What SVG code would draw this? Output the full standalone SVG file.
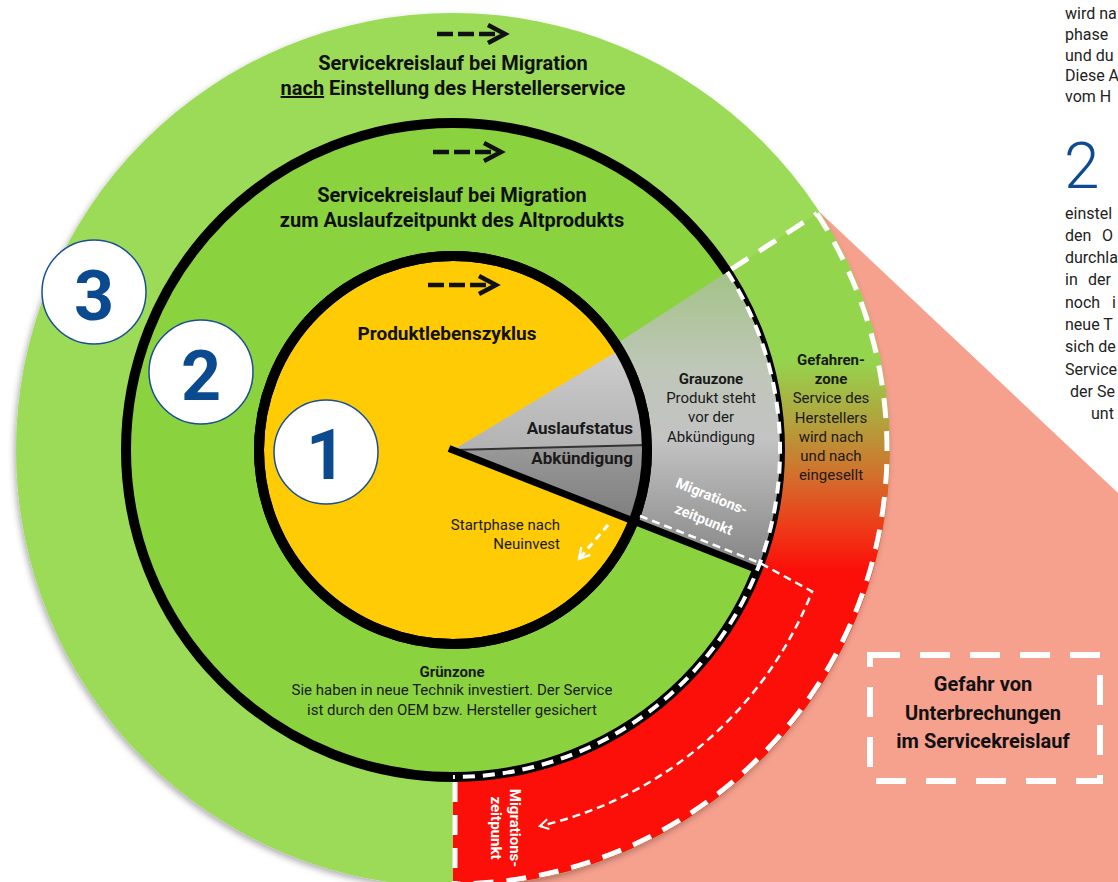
<svg xmlns="http://www.w3.org/2000/svg" width="1118" height="882" viewBox="0 0 1118 882">
<style>
text{font-family:Roboto,"Liberation Sans",Arial,sans-serif;fill:#1a1a1a}
.b{font-weight:700}
.t20{font-size:20px;font-weight:700;text-anchor:middle;fill:#111}
.t15{font-size:15px;text-anchor:middle}
.wd{fill:none;stroke:#fff;stroke-width:5;stroke-dasharray:20 13}
.side{font-size:16px;fill:#222}
.badge circle{fill:#fff;stroke:#1a4f96;stroke-width:1.5}
.badge text{font-size:70px;font-weight:700;fill:#0b4a8f;text-anchor:middle}
</style>
<defs>
<filter id="sh" x="-10%" y="-10%" width="120%" height="120%">
<feDropShadow dx="-2" dy="3" stdDeviation="3" flood-color="#000" flood-opacity="0.3"/>
</filter>
<linearGradient id="gz" gradientUnits="userSpaceOnUse" x1="0" y1="360" x2="0" y2="570">
<stop offset="0" stop-color="#94d54e"/>
<stop offset="0.3" stop-color="#b3a13c"/>
<stop offset="0.55" stop-color="#d2702c"/>
<stop offset="0.8" stop-color="#ee3a18"/>
<stop offset="1" stop-color="#fb0f08"/>
</linearGradient>
<linearGradient id="gray" gradientUnits="userSpaceOnUse" x1="0" y1="280" x2="0" y2="570">
<stop offset="0" stop-color="#a5c38b"/>
<stop offset="0.3" stop-color="#bfc7b8"/>
<stop offset="0.55" stop-color="#c3c3c3"/>
<stop offset="1" stop-color="#838383"/>
</linearGradient>
<linearGradient id="ls" x1="0" y1="0" x2="0" y2="1">
<stop offset="0" stop-color="#cdcdcd"/>
<stop offset="1" stop-color="#b2b2b2"/>
</linearGradient>
<linearGradient id="ab" x1="0" y1="0" x2="0" y2="1">
<stop offset="0" stop-color="#9a9a9a"/>
<stop offset="1" stop-color="#7e7e7e"/>
</linearGradient>
<g id="arr" fill="none" stroke="#111" stroke-width="4.5">
<path d="M0,0 H58" stroke-dasharray="16 5"/>
<path d="M51,-9 L68,0 L51,9" stroke-linejoin="miter"/>
</g>
<marker id="wh" viewBox="0 0 10 10" refX="8" refY="5" markerWidth="5" markerHeight="5" orient="auto" markerUnits="strokeWidth">
<path d="M1,1 L8,5 L1,9" fill="none" stroke="#fff" stroke-width="1.6"/>
</marker>
</defs>

<g id="danger-area">
<polygon points="819.5,212 1118,493 1118,882 453,882 453,450" fill="#f6a08e"/>
</g>

<g id="ring3">
<circle cx="453" cy="450" r="437" fill="#9cdb59" filter="url(#sh)"/>
<path d="M727.3,271.9 L819.5,212 A437 437 0 0 1 453,887 L453,777 A327 327 0 0 0 727.3,271.9 Z" fill="url(#gz)"/>
</g>

<g id="ring2">
<circle cx="453" cy="450" r="327" fill="#8bd23f" stroke="#000" stroke-width="10"/>
<path d="M615.7,344.3 L727.3,271.9 A327 327 0 0 1 757.2,569.8 L633.5,521.1 A194 194 0 0 0 615.7,344.3 Z" fill="url(#gray)"/>
</g>

<g id="ring1">
<circle cx="453" cy="450" r="194" fill="#fecb05" stroke="#000" stroke-width="10"/>
<path d="M453,450 L619.3,350.1 A194 194 0 0 1 646.9,444.9 Z" fill="url(#ls)"/>
<path d="M453,450 L646.9,444.9 A194 194 0 0 1 633.5,521.1 Z" fill="url(#ab)"/>
<line x1="453" y1="450" x2="646.9" y2="444.9" stroke="#333" stroke-width="2"/>
<circle cx="453" cy="450" r="194" fill="none" stroke="#000" stroke-width="10"/>
</g>

<g id="connectors">
<line x1="449" y1="448.5" x2="757.2" y2="569.8" stroke="#000" stroke-width="7"/>
<path d="M727.3,271.9 A327 327 0 0 1 453,777" fill="none" stroke="#fff" stroke-width="4" stroke-dasharray="12 8"/>
<path d="M817,213.6 A434 434 0 0 1 453,884" class="wd"/>
<path d="M731.4,269.2 L817,213.6" class="wd"/>
<path d="M455,782 L455,882" class="wd" stroke-dasharray="24 14"/>
<path d="M640,516 L760,563 L812.1,591.5 A386 386 0 0 1 539.8,826.1" fill="none" stroke="#fff" stroke-width="2.5" stroke-dasharray="8 5" marker-end="url(#wh)"/>
<path d="M608,525 L579,559" fill="none" stroke="#fff" stroke-width="3" stroke-dasharray="7 5" marker-end="url(#wh)"/>
<use href="#arr" x="437" y="34"/>
<use href="#arr" x="433" y="152"/>
<use href="#arr" x="428" y="285"/>
</g>

<g id="labels-outer">
<text class="t20" x="453" y="70">Servicekreislauf bei Migration</text>
<text class="t20" x="453" y="95"><tspan text-decoration="underline">nach</tspan> Einstellung des Herstellerservice</text>
<text class="t20" x="452" y="202">Servicekreislauf bei Migration</text>
<text class="t20" x="452" y="227">zum Auslaufzeitpunkt des Altprodukts</text>
<text class="t20" x="447" y="340" style="font-size:19px">Produktlebenszyklus</text>
</g>

<g id="wedge-labels">
<text class="b" x="633" y="434" style="font-size:17px;text-anchor:end">Auslaufstatus</text>
<text class="b" x="633" y="464" style="font-size:17px;text-anchor:end">Abkündigung</text>
<text class="t15 b" x="711" y="384">Grauzone</text>
<text class="t15" x="711" y="403">Produkt steht</text>
<text class="t15" x="711" y="422">vor der</text>
<text class="t15" x="711" y="442">Abkündigung</text>
<text class="t15 b" transform="translate(710,501) rotate(22)" style="fill:#fff;font-size:14.5px">Migrations-</text>
<text class="t15 b" transform="translate(702,524) rotate(22)" style="fill:#fff;font-size:14.5px">zeitpunkt</text>
<text x="560" y="530" style="font-size:15px;text-anchor:end">Startphase nach</text>
<text x="560" y="549" style="font-size:15px;text-anchor:end">Neuinvest</text>
</g>

<g id="gefahrenzone">
<text class="t15 b" x="831" y="365">Gefahren-</text>
<text class="t15 b" x="831" y="384">zone</text>
<text class="t15" x="831" y="403">Service des</text>
<text class="t15" x="831" y="423">Herstellers</text>
<text class="t15" x="831" y="442">wird nach</text>
<text class="t15" x="831" y="461">und nach</text>
<text class="t15" x="831" y="480">eingesellt</text>
</g>

<g id="gruenzone">
<text class="t15 b" x="452" y="677">Grünzone</text>
<text class="t15" x="452" y="695">Sie haben in neue Technik investiert. Der Service</text>
<text class="t15" x="452" y="715">ist durch den OEM bzw. Hersteller gesichert</text>
</g>

<g id="migration-red">
<text class="t15 b" transform="translate(510,828) rotate(90)" style="fill:#fff">Migrations-</text>
<text class="t15 b" transform="translate(491,828) rotate(90)" style="fill:#fff">zeitpunkt</text>
</g>

<g id="badge-3" class="badge"><circle cx="94" cy="292" r="52"/><text x="94" y="320">3</text></g>
<g id="badge-2" class="badge"><circle cx="201" cy="372" r="52"/><text x="201" y="400">2</text></g>
<g id="badge-1" class="badge"><circle cx="326" cy="452" r="52"/><text x="326" y="479">1</text></g>

<g id="warning-box">
<rect x="870" y="655" width="230" height="126" fill="none" stroke="#fff" stroke-width="6" stroke-dasharray="30 20"/>
<text class="t20" x="983" y="691">Gefahr von</text>
<text class="t20" x="983" y="720">Unterbrechungen</text>
<text class="t20" x="983" y="748">im Servicekreislauf</text>
</g>

<g id="side-text">
<text class="side" x="1065" y="19">wird na</text>
<text class="side" x="1065" y="40">phase</text>
<text class="side" x="1065" y="61">und du</text>
<text class="side" x="1065" y="81">Diese A</text>
<text class="side" x="1065" y="102">vom H</text>
<text x="1064" y="188" style="font-size:64px;font-weight:300;fill:#0d4a90">2</text>
<text class="side" x="1065" y="219">einstel</text>
<text class="side" y="241"><tspan x="1065">den</tspan><tspan x="1102">O</tspan></text>
<text class="side" x="1065" y="263">durchla</text>
<text class="side" y="285"><tspan x="1065">in</tspan><tspan x="1088">der</tspan></text>
<text class="side" y="308"><tspan x="1065">noch</tspan><tspan x="1112">i</tspan></text>
<text class="side" x="1065" y="330">neue T</text>
<text class="side" x="1065" y="352">sich de</text>
<text class="side" x="1065" y="375">Service</text>
<text class="side" x="1070" y="397">der Se</text>
<text class="side" x="1091" y="419">unt</text>
</g>
</svg>
